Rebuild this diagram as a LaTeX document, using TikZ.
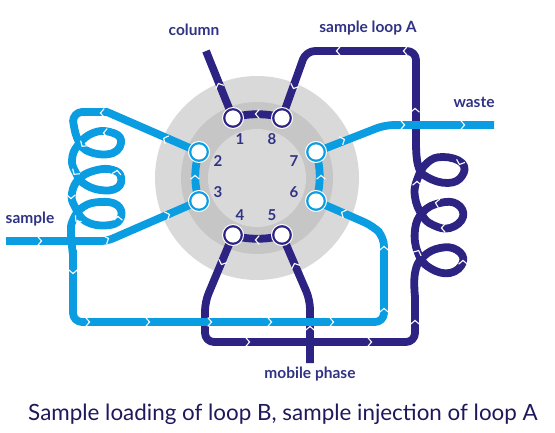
\documentclass[tikz,border=0pt]{standalone}
\usepackage{fontspec}
\setmainfont{Lato}
\pgfdeclarelayer{disk}
\pgfdeclarelayer{darkpipe}
\pgfdeclarelayer{cyanpipe}
\pgfsetlayers{disk,darkpipe,cyanpipe,main}
\definecolor{cyanp}{HTML}{0A9DE2}
\definecolor{darkp}{HTML}{2C2382}
\definecolor{labelc}{HTML}{2F3285}
\definecolor{diskA}{HTML}{D9D9D9}
\definecolor{diskB}{HTML}{C6C6C6}
\tikzset{
  x=1pt,y=-1pt,
  cy/.style={draw=cyanp,line width=7.8pt,line join=round},
  dk/.style={draw=darkp,line width=7.8pt,line join=round},
  portc/.style={circle,draw=white,line width=1pt,fill=cyanp,minimum size=21pt,inner sep=0pt,path picture={\fill[white] (path picture bounding box.center) circle[radius=7.6pt];}},
  portd/.style={portc,fill=darkp},
  lab/.style={font=\fontsize{15.5}{17}\selectfont\bfseries,text=labelc,inner sep=0pt},
  num/.style={font=\fontsize{15}{16}\selectfont\bfseries,text=labelc,inner sep=0pt},
  chv/.style={draw=white,line width=1.1pt,line join=miter}
}
\newcommand{\chev}[3]{\draw[chv,shift={(#1,#2)},rotate=#3] (-2.2,-4.4) -- (1.6,0) -- (-2.2,4.4);}
\begin{document}
\begin{tikzpicture}
\useasboundingbox (0,0) rectangle (555,433);
% ports
\node[portd] (p1) at (233,118) {};
\node[portd] (p8) at (282,118) {};
\node[portc] (p2) at (199,152) {};
\node[portc] (p3) at (199,201) {};
\node[portc] (p7) at (316,152) {};
\node[portc] (p6) at (316,201) {};
\node[portd] (p4) at (233,235) {};
\node[portd] (p5) at (282,235) {};
% numbers
\node[num] at (240,139) {1};
\node[num] at (272,139) {8};
\node[num] at (218,161) {2};
\node[num] at (294,161) {7};
\node[num] at (218,192) {3};
\node[num] at (294,192) {6};
\node[num] at (240,215) {4};
\node[num] at (272,215) {5};
% labels
\node[lab] at (194,30) {column};
\node[lab] (la) at (368,28) {sample loop A};
\node[lab] at (474,102) {waste};
\node[lab] at (30,219) {sample};
\node[lab] at (310,374) {mobile phase};
\node[font=\fontsize{22.4}{26}\selectfont,text=darkp!70!black,inner sep=0pt] at (283,414) {Sample loading of loop B, sample injection of loop A};
\coordinate (colend) at (206,51);
\coordinate (wasteend) at (494,125);
\coordinate (sampleend) at (6,241);
\coordinate (mobileend) at (310,363);
\begin{pgfonlayer}{disk}
\fill[diskA] (257,178) circle[radius=102];
\fill[diskB] (257,178) circle[radius=76];
\fill[diskA] (257,178) circle[radius=49];
\end{pgfonlayer}
\begin{pgfonlayer}{darkpipe}
\draw[dk] (colend) -- (p1.center);
\draw[dk] (p1.center) .. controls (245,113) and (270,113) .. (p8.center);
\draw[dk] (p4.center) .. controls (245,240) and (270,240) .. (p5.center);
\draw[dk,rounded corners=9pt] (p8.center) -- (306,51) -- (416,51) -- (416,147);
\draw[dk] plot[smooth,tension=0.75] coordinates {(416,140) (418,165) (427,177) (448,183) (462,176) (462,163) (443,157) (427,163) (417,180) (415,197) (422,215) (433,225) (450,228) (463,217) (457,204) (440,203) (423,212) (415,230) (418,253) (430,268) (450,273) (463,262) (457,250) (440,248) (423,257) (415,273) (415,297)};
\draw[dk,rounded corners=9pt] (415,295) -- (415,342) -- (205,342) -- (205,302) -- (p4.center);
\draw[dk,rounded corners=9pt] (p5.center) -- (310,300) -- (mobileend);
\foreach \x/\y/\d in {219/85/113,294/87/247,338/51/180,405/51/180,415/110/90,417/183/90,460/163/250,437/203/170,443/228/180,418/252/65,463/262/90,257/114/180,257/240/180,222/263/247,295/265/113,248/342/0,370/342/0,310/328/90,415/322/90}
  {\chev{\x}{\y}{\d}}
\end{pgfonlayer}
\begin{pgfonlayer}{cyanpipe}
\draw[cy] (p2.center) .. controls (194,170) and (194,183) .. (p3.center);
\draw[cy] (p7.center) .. controls (321,170) and (321,183) .. (p6.center);
\draw[cy] (p2.center) -- (107,112) -- (82,112) to[out=180,in=90] (73,122);
\draw[cy] plot[smooth,tension=0.75] coordinates {(73,120) (78,140) (90,152) (113,153) (121,140) (110,132) (93,133) (78,145) (72,160) (76,173) (83,183) (100,190) (117,188) (121,177) (113,170) (97,170) (80,178) (72,193) (75,207) (87,222) (110,225) (121,217) (117,205) (100,202) (83,207) (73,220) (71,233) (73,255)};
\draw[cy,rounded corners=9pt] (73,250) -- (73,322) -- (384,322) -- (384,237) -- (373,226) -- (p6.center);
\draw[cy,rounded corners=6pt] (sampleend) -- (107,241) -- (p3.center);
\draw[cy,rounded corners=9pt] (p7.center) -- (385,125) -- (wasteend);
\foreach \x/\y/\d in {102/113/180,165/139/156,105/133/180,83/145/235,75/173/235,117/172/80,71/197/270,118/218/90,77/220/225,40/241/0,107/239/23,168/215/23,195/177/90,321/177/90,343/140/23,343/213/156,403/125/0,463/125/0,384/248/90,384/310/90,73/272/270,88/322/0,148/322/0,210/322/0,270/322/0,332/322/0}
  {\chev{\x}{\y}{\d}}
\end{pgfonlayer}
\end{tikzpicture}
\end{document}
